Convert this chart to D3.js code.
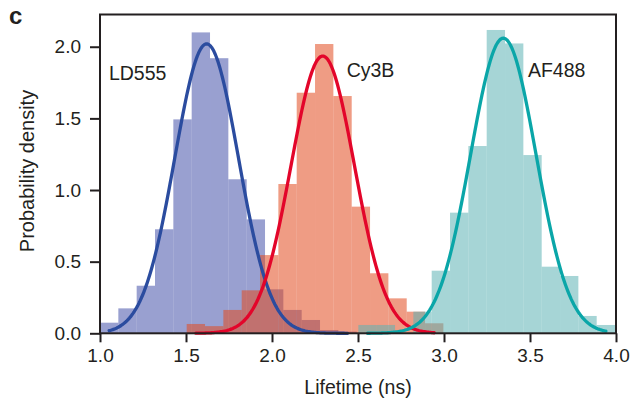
<!DOCTYPE html>
<html><head><meta charset="utf-8">
<script src="https://cdn.jsdelivr.net/npm/d3@7"></script>
<style>
html,body{margin:0;padding:0;background:#fff;}
svg{display:block;font-family:"Liberation Sans",Arial,Helvetica,sans-serif;}
</style></head><body>
<svg id="chart" width="633" height="401"></svg>
<script>
// Fluorescence lifetime histograms (probability density) with Gaussian fits
const dyes = ["LD555", "Cy3B", "AF488"];
const binWidth = 0.1066;                 // ns
const binStarts = [1.0, 1.504, 2.502];   // ns, left edge of first bin per dye
const ld555Density = [0.074, 0.174, 0.332, 0.726, 1.493, 2.10, 1.92, 1.075, 0.795, 0.307, 0.163, 0.093, 0.023, 0.012];
const cy3bDensity  = [0.065, 0.05, 0.163, 0.30, 0.546, 1.042, 1.679, 2.019, 1.656, 0.884, 0.419, 0.244, 0.151, 0.07];
const af488Density = [0.058, 0.058, 0, 0.151, 0.437, 0.842, 1.307, 2.117, 2.023, 1.244, 0.465, 0.40, 0.121, 0.058];
const fitAmplitude = [2.02, 1.935, 2.06];
const fitMean = [1.62, 2.295, 3.345];
const fitSigma = [0.185, 0.184, 0.19];
const labelPos = [[1.052, 1.768], [2.434, 1.789], [3.488, 1.789]];
const xTicks = [1.0, 1.5, 2.0, 2.5, 3.0, 3.5, 4.0];
const yTicks = [0, 0.5, 1.0, 1.5, 2.0];

const barColors = ["#4652aa", "#e24b1f", "#5db3b4"];
const lineColors = ["#2b4c9f", "#e3052a", "#0aa6a8"];
const densities = [ld555Density, cy3bDensity, af488Density];

const svg = d3.select("#chart");
const plot = {left: 100, right: 616, top: 14.5, bottom: 333.3};
const x = d3.scaleLinear().domain([1, 4]).range([plot.left, plot.right]);
const y = d3.scaleLinear().domain([0, 2.225]).range([plot.bottom, plot.top]);

// histogram bars
densities.forEach((vals, i) => {
  const bins = vals.map((v, k) => ({x0: binStarts[i] + k * binWidth, x1: binStarts[i] + (k + 1) * binWidth, v}));
  svg.append("g").selectAll("rect").data(bins).join("rect")
    .attr("x", d => x(d.x0))
    .attr("width", d => x(d.x1) - x(d.x0))
    .attr("y", d => y(d.v))
    .attr("height", d => y(0) - y(d.v))
    .attr("fill", barColors[i])
    .attr("fill-opacity", 0.55);
});

// gaussian fit curves, drawn across the bin centres
const line = d3.line().x(d => x(d[0])).y(d => y(d[1]));
dyes.forEach((name, i) => {
  const n = densities[i].length;
  const a = binStarts[i] + binWidth / 2, b = binStarts[i] + (n - 0.5) * binWidth;
  const pts = d3.range(0, 201).map(j => {
    const t = a + (b - a) * j / 200;
    const z = (t - fitMean[i]) / fitSigma[i];
    return [t, fitAmplitude[i] * Math.exp(-0.5 * z * z)];
  });
  svg.append("path").datum(pts)
    .attr("d", line).attr("fill", "none")
    .attr("stroke", lineColors[i]).attr("stroke-width", 3.3)
    .attr("stroke-linejoin", "round").attr("stroke-linecap", "round");
  svg.append("text")
    .attr("x", x(labelPos[i][0])).attr("y", y(labelPos[i][1]))
    .attr("font-size", 19.5).attr("fill", "#231f20").text(name);
});

// axes
const xAxis = svg.append("g").attr("transform", `translate(0,${plot.bottom})`)
  .call(d3.axisBottom(x).tickValues(xTicks).tickFormat(d3.format(".1f")).tickSize(9).tickPadding(6));
const yAxis = svg.append("g").attr("transform", `translate(${plot.left},0)`)
  .call(d3.axisLeft(y).tickValues(yTicks).tickFormat(d3.format(".1f")).tickSize(10).tickPadding(9));
[xAxis, yAxis].forEach(g => {
  g.select(".domain").remove();
  g.selectAll(".tick line").attr("stroke", "#231f20").attr("stroke-width", 2);
  g.selectAll(".tick text").attr("font-size", 19).attr("fill", "#231f20")
    .attr("font-family", "'Liberation Sans',Arial,Helvetica,sans-serif");
});

// frame
svg.append("rect").attr("x", plot.left).attr("y", plot.top)
  .attr("width", plot.right - plot.left).attr("height", plot.bottom - plot.top)
  .attr("fill", "none").attr("stroke", "#231f20").attr("stroke-width", 2);

// axis titles
svg.append("text").attr("x", 358).attr("y", 394)
  .attr("text-anchor", "middle").attr("font-size", 19.5).attr("fill", "#231f20")
  .text("Lifetime (ns)");
svg.append("text").attr("transform", "translate(34,171) rotate(-90)")
  .attr("text-anchor", "middle").attr("font-size", 20).attr("fill", "#231f20")
  .text("Probability density");

// panel letter
svg.append("text").attr("x", 9).attr("y", 24)
  .attr("font-size", 24).attr("font-weight", "bold").attr("fill", "#231f20").text("c");
</script>
</body></html>
